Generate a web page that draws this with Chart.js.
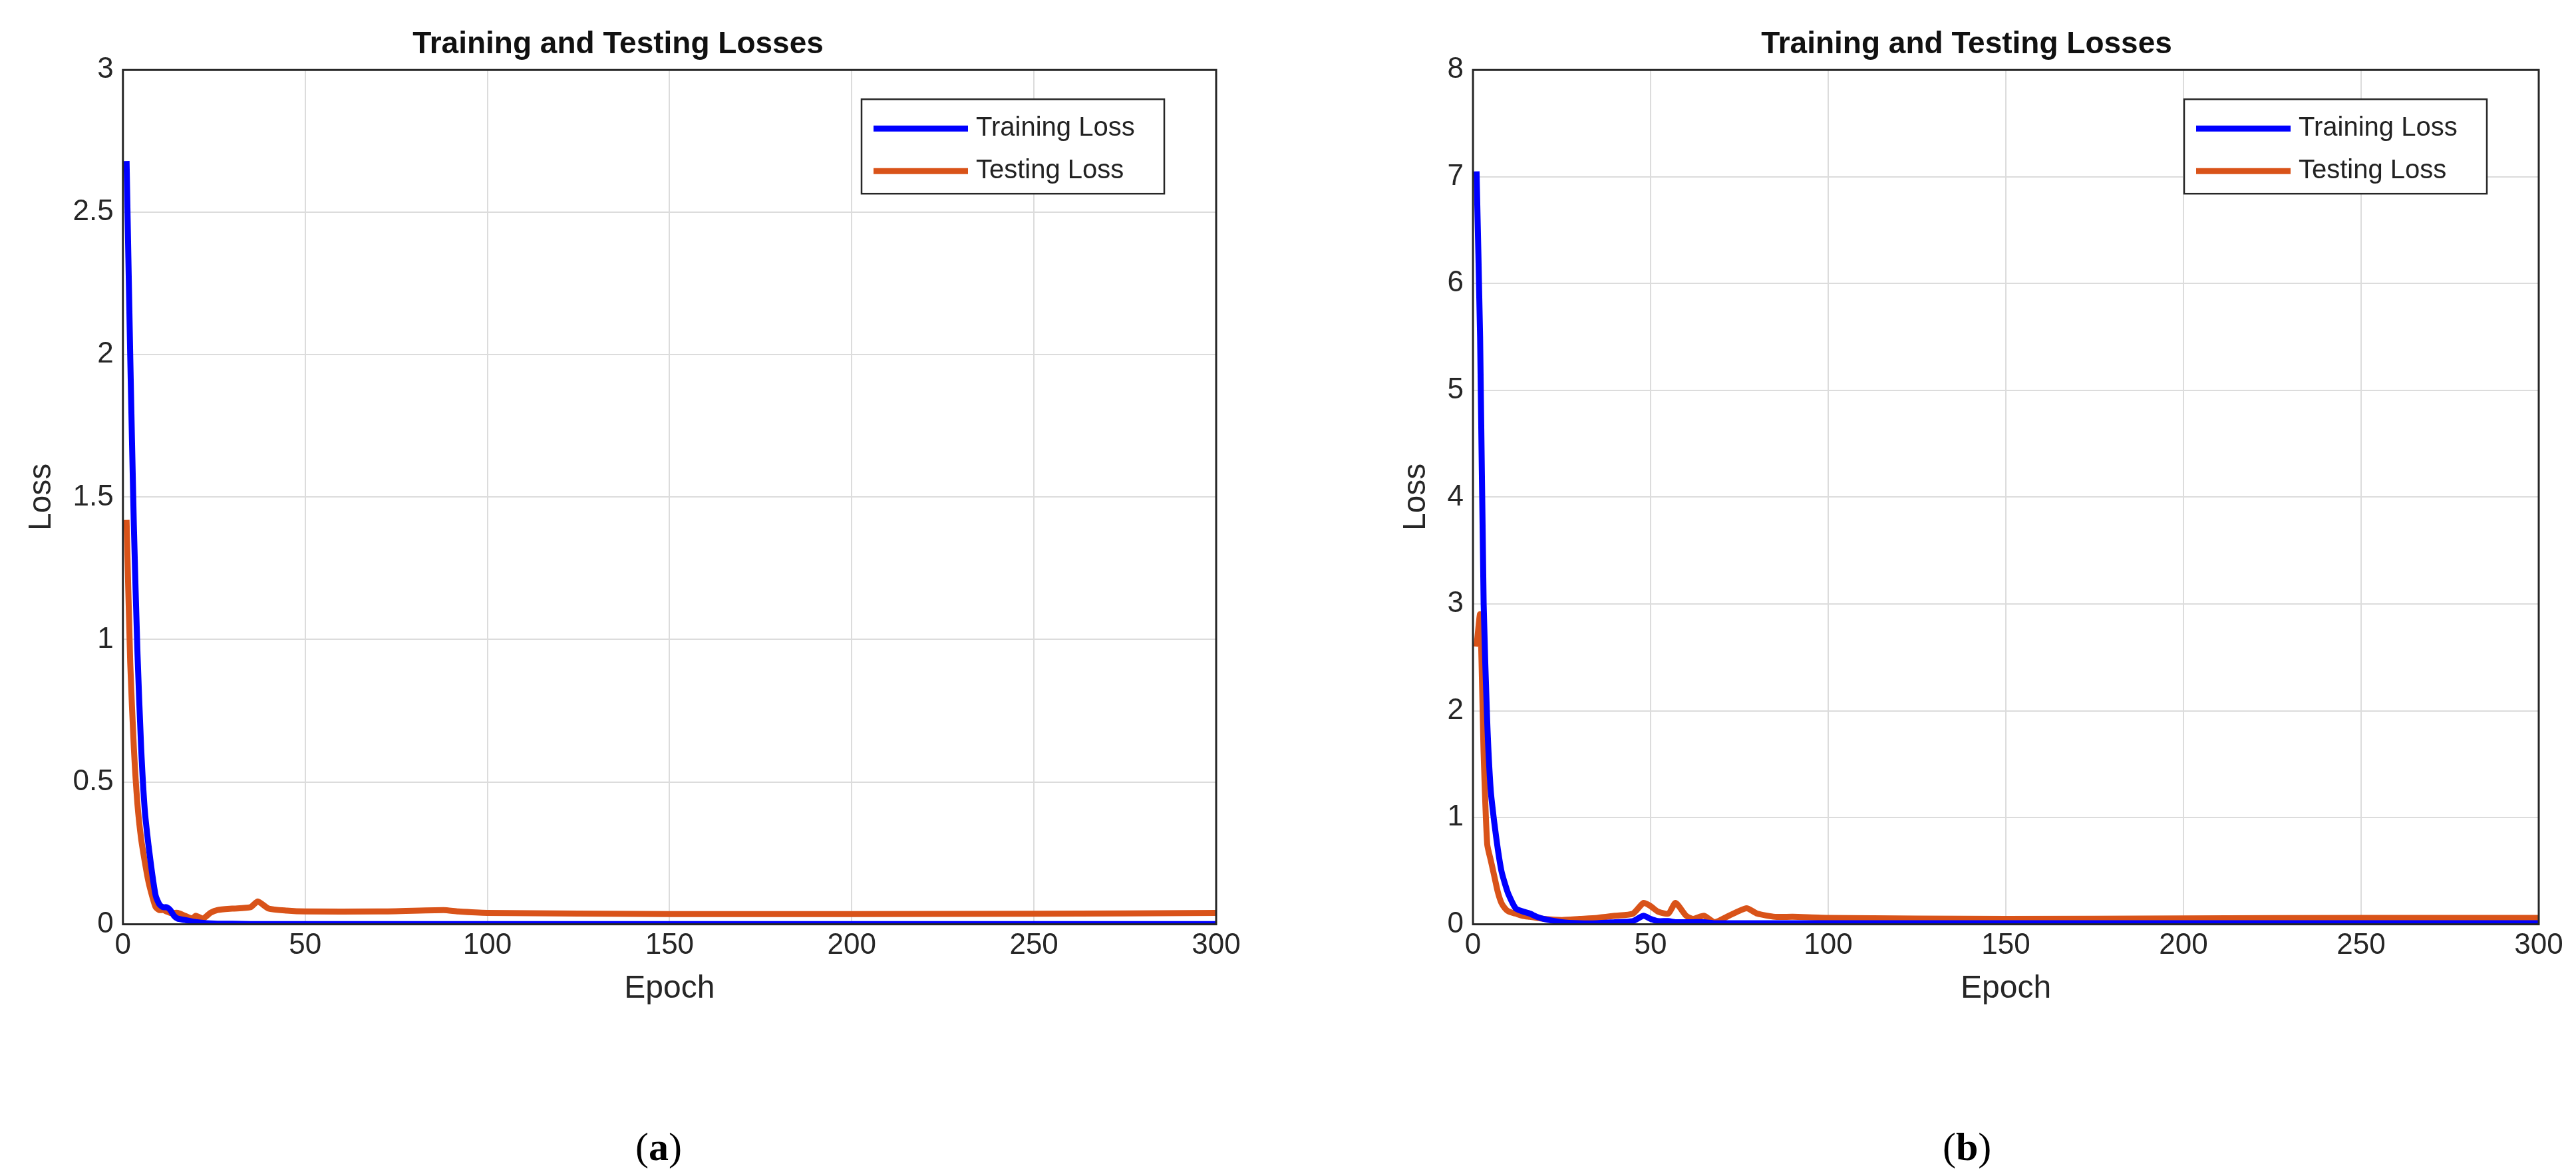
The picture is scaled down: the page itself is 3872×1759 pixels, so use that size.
<!DOCTYPE html>
<html>
<head>
<meta charset="utf-8">
<script src="https://cdn.jsdelivr.net/npm/chart.js@4"></script>
<style>
  body { margin: 0; background: #fff; width: 3872px; height: 1759px; position: relative; overflow: hidden; }
  .panel { position: absolute; top: 0; width: 1936px; height: 1620px; }
  .cap { position: absolute; top: 1690px; font: 60px "Liberation Serif", serif; }
</style>
</head>
<body>
<div class="panel" style="left:0"><canvas id="chartA"></canvas></div>
<div class="panel" style="left:1936px"><canvas id="chartB"></canvas></div>
<div class="cap" style="left:955px">(<b>a</b>)</div>
<div class="cap" style="left:2920px">(<b>b</b>)</div>
<script>
// panel (a)
const epochsA = [1, 2, 3, 4, 5, 6, 7, 8, 9, 10, 11, 12, 13, 14, 15, 17, 19, 20, 22, 24, 26, 30, 35, 37, 40, 45, 50, 70, 88, 92, 100, 150, 200, 250, 300];
const trainA =  [2.68, 2.0, 1.4, 0.95, 0.62, 0.4, 0.28, 0.18, 0.1, 0.07, 0.06, 0.06, 0.05, 0.03, 0.02, 0.015, 0.01, 0.008, 0.005, 0.003, 0.002, 0.002, 0.001, 0.001, 0.001, 0.001, 0.001, 0.001, 0.001, 0.001, 0.001, 0.001, 0.001, 0.001, 0.001];
const testA =   [1.42, 0.92, 0.62, 0.42, 0.3, 0.22, 0.15, 0.1, 0.06, 0.05, 0.05, 0.045, 0.04, 0.04, 0.04, 0.03, 0.02, 0.03, 0.02, 0.04, 0.05, 0.055, 0.06, 0.08, 0.055, 0.048, 0.045, 0.045, 0.05, 0.045, 0.04, 0.036, 0.036, 0.037, 0.04];
// panel (b)
const epochsB = [1, 2, 3, 4, 5, 6, 7, 8, 9, 10, 12, 14, 16, 18, 20, 25, 30, 35, 40, 45, 48, 50, 52, 55, 57, 60, 62, 65, 68, 72, 77, 80, 85, 90, 100, 150, 200, 250, 300];
const trainB =  [7.05, 5.5, 3.0, 1.9, 1.25, 0.95, 0.7, 0.5, 0.38, 0.28, 0.15, 0.12, 0.1, 0.07, 0.05, 0.02, 0.01, 0.01, 0.02, 0.03, 0.08, 0.05, 0.03, 0.03, 0.02, 0.02, 0.02, 0.02, 0.01, 0.01, 0.01, 0.01, 0.01, 0.01, 0.01, 0.01, 0.01, 0.01, 0.01];
const testB =   [2.6, 2.9, 1.6, 0.75, 0.6, 0.45, 0.3, 0.2, 0.15, 0.12, 0.1, 0.08, 0.07, 0.06, 0.05, 0.04, 0.05, 0.06, 0.08, 0.1, 0.2, 0.17, 0.12, 0.1, 0.2, 0.08, 0.05, 0.08, 0.02, 0.08, 0.15, 0.1, 0.07, 0.07, 0.06, 0.05, 0.055, 0.06, 0.06];
const yTicksA = [0, 0.5, 1, 1.5, 2, 2.5, 3];
const yTicksB = [0, 1, 2, 3, 4, 5, 6, 7, 8];
const seriesNames = ['Training Loss', 'Testing Loss'];
const seriesColors = ['#0000ff', '#d95319'];

const pts = (xs, ys) => xs.map((x, i) => ({ x: x, y: ys[i] }));

const boxLegend = {
  id: 'boxLegend',
  afterDraw(chart) {
    const { ctx, chartArea: a } = chart;
    ctx.save();
    ctx.strokeStyle = '#262626';
    ctx.lineWidth = 3;
    ctx.strokeRect(a.left, a.top, a.right - a.left, a.bottom - a.top);
    const w = 455, h = 142, x = a.right - 78 - w, y = a.top + 44;
    ctx.fillStyle = '#fff';
    ctx.fillRect(x, y, w, h);
    ctx.lineWidth = 2.5;
    ctx.strokeRect(x, y, w, h);
    ctx.font = '40px "Liberation Sans", Arial, sans-serif';
    ctx.textBaseline = 'middle';
    chart.data.datasets.forEach((ds, i) => {
      const yy = y + 44 + i * 64;
      ctx.strokeStyle = ds.borderColor;
      ctx.lineWidth = 9;
      ctx.beginPath(); ctx.moveTo(x + 18, yy); ctx.lineTo(x + 160, yy); ctx.stroke();
      ctx.fillStyle = '#222';
      ctx.fillText(ds.label, x + 172, yy);
    });
    ctx.restore();
  }
};

function makeChart(id, xs, tr, te, yTicks, yMax, padLeft, padRight) {
  new Chart(document.getElementById(id), {
    type: 'line',
    data: {
      datasets: [
        { label: seriesNames[0], data: pts(xs, tr), borderColor: seriesColors[0], borderWidth: 9, pointRadius: 0, tension: 0.2 },
        { label: seriesNames[1], data: pts(xs, te), borderColor: seriesColors[1], borderWidth: 9, pointRadius: 0, tension: 0.2 }
      ]
    },
    options: {
      responsive: true, maintainAspectRatio: false, animation: false,
      layout: { padding: { left: padLeft, right: padRight, top: 0, bottom: 100 } },
      plugins: {
        legend: { display: false },
        tooltip: { enabled: false },
        title: { display: true, text: 'Training and Testing Losses', color: '#111',
                 font: { size: 46, weight: 'bold', family: '"Liberation Sans", Arial' }, padding: { top: 40, bottom: 10 } }
      },
      scales: {
        x: {
          type: 'linear', min: 0, max: 300,
          ticks: { stepSize: 50, color: '#262626', font: { size: 44, family: '"Liberation Sans", Arial' }, padding: 6 },
          grid: { color: '#dcdcdc', lineWidth: 2, tickLength: 0 },
          title: { display: true, text: 'Epoch', color: '#262626', font: { size: 48, family: '"Liberation Sans", Arial' } }
        },
        y: {
          min: 0, max: yMax,
          afterBuildTicks: (s) => { s.ticks = yTicks.map(v => ({ value: v })); },
          ticks: { color: '#262626', font: { size: 44, family: '"Liberation Sans", Arial' }, padding: 14,
                   callback: (v) => String(v) },
          grid: { color: '#dcdcdc', lineWidth: 2, tickLength: 0 },
          title: { display: true, text: 'Loss', color: '#262626', font: { size: 48, family: '"Liberation Sans", Arial' } }
        }
      }
    },
    plugins: [boxLegend]
  });
}

makeChart('chartA', epochsA, trainA, testA, yTicksA, 3, 30, 108);
makeChart('chartB', epochsB, trainB, testB, yTicksB, 8, 160, 56);
</script>
</body>
</html>
